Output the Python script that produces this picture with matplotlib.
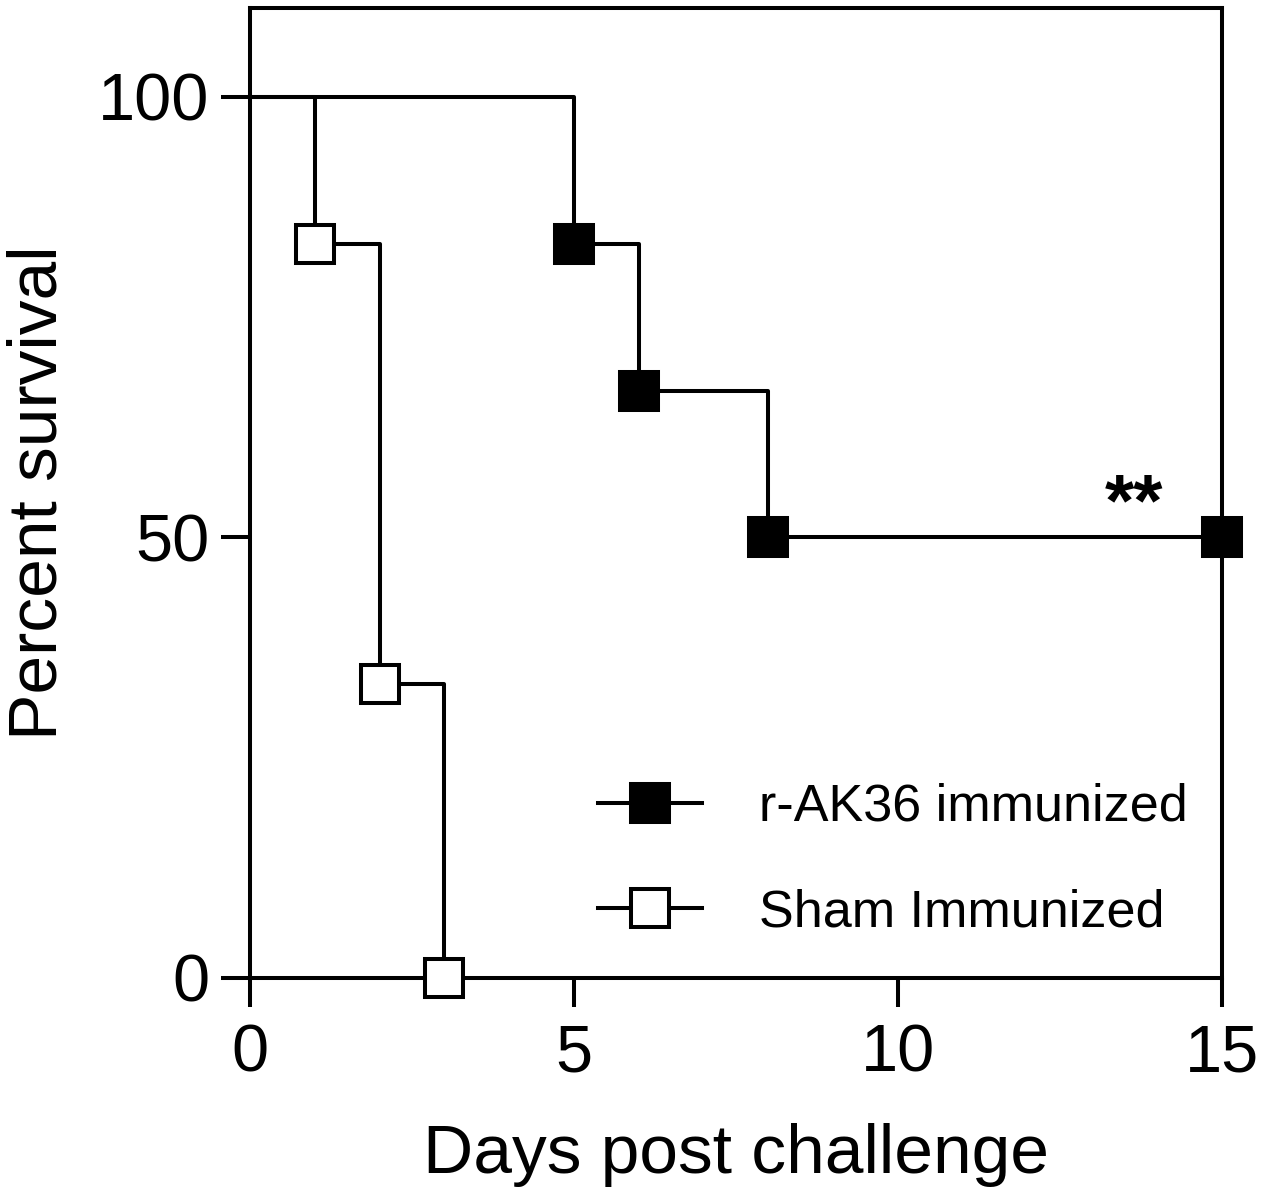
import matplotlib
matplotlib.use("Agg")
import matplotlib.pyplot as plt

# Kaplan-Meier survival data (day, percent survival)
ak36_days = [0, 5, 6, 8, 15]
ak36_surv = [100, 83.33, 66.67, 50, 50]
sham_days = [0, 1, 2, 3]
sham_surv = [100, 83.33, 33.33, 0]

labels = ["r-AK36 immunized", "Sham Immunized"]
xticks = [0, 5, 10, 15]
yticks = [0, 50, 100]

plt.rcParams['font.family'] = ['Liberation Sans', 'DejaVu Sans']

fig = plt.figure(figsize=(12.64, 11.95), dpi=100)
ax = fig.add_axes([250/1264, 1 - 978/1195, (1222-250)/1264, (978-8)/1195])

lw = 2.9
ms = 28

ax.plot(ak36_days, ak36_surv, drawstyle='steps-post', color='black', lw=lw,
        marker='s', markersize=ms, markerfacecolor='black', markeredgecolor='black',
        markeredgewidth=lw, markevery=list(range(1, len(ak36_days))),
        clip_on=False, label=labels[0], zorder=3)
ax.plot(sham_days, sham_surv, drawstyle='steps-post', color='black', lw=lw,
        marker='s', markersize=ms, markerfacecolor='white', markeredgecolor='black',
        markeredgewidth=lw, markevery=list(range(1, len(sham_days))),
        clip_on=False, label=labels[1], zorder=3)

ax.set_xlim(0, 15)
ax.set_ylim(0, 110.1)
ax.set_xticks(xticks)
ax.set_yticks(yticks)

for s in ax.spines.values():
    s.set_linewidth(lw)
ax.tick_params(direction='out', length=21, width=lw, labelsize=48, pad=8)
ax.tick_params(axis='x', pad=12)

ax.set_xlabel("Days post challenge", fontsize=50, labelpad=27)
ax.set_ylabel("Percent survival", fontsize=50, labelpad=20)

ax.text(13.65, 53.6, "**", fontsize=54, fontweight='bold', ha='center', va='center')

leg = ax.legend(loc='center left', bbox_to_anchor=((598-250)/972, (978-860)/970),
                fontsize=37.5, frameon=False, handlelength=2.0, handletextpad=1.1,
                labelspacing=1.08, borderaxespad=0, borderpad=0, numpoints=1)

fig.savefig("out.png", dpi=100)
